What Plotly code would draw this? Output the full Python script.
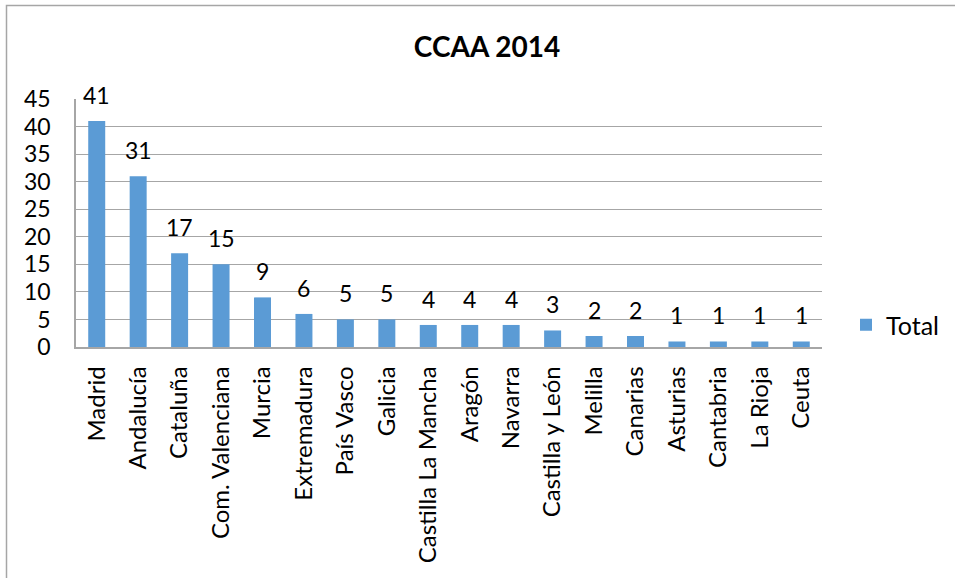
import plotly.graph_objects as go

categories = ["Madrid", "Andalucía", "Cataluña", "Com. Valenciana", "Murcia", "Extremadura",
              "País Vasco", "Galicia", "Castilla La Mancha", "Aragón", "Navarra",
              "Castilla y León", "Melilla", "Canarias", "Asturias", "Cantabria",
              "La Rioja", "Ceuta"]
totals = [41, 31, 17, 15, 9, 6, 5, 5, 4, 4, 4, 3, 2, 2, 1, 1, 1, 1]
y_ticks = [0, 5, 10, 15, 20, 25, 30, 35, 40, 45]

FONT = "Lato"
W, H = 955, 578
L, R, T, B = 76, 133, 99, 231

fig = go.Figure()
fig.add_trace(go.Bar(
    x=categories, y=totals, name="Total",
    marker=dict(color="#5B9BD5", line=dict(width=0)),
    cliponaxis=False, showlegend=True, hoverinfo="skip",
))

for c, v in zip(categories, totals):
    fig.add_annotation(x=c, y=v, text=str(v), showarrow=False, yanchor="bottom",
                       yshift=10, font=dict(family=FONT, size=23, color="#000000"))

pw = W - L - R
ph = H - T - B
fig.add_shape(type="rect", xref="paper", yref="paper",
              x0=(6.5 - L) / pw, x1=(W + 10 - L) / pw,
              y0=(H - B - (H + 10)) / ph, y1=(H - B - 5.5) / ph,
              line=dict(color="#A6A6A6", width=1.5), fillcolor="rgba(0,0,0,0)", layer="below")

fig.update_layout(
    width=W, height=H,
    margin=dict(l=L, r=R, t=T, b=B, autoexpand=False),
    paper_bgcolor="white", plot_bgcolor="white",
    bargap=0.59,
    title=dict(text="<b>CCAA 2014</b>", x=487 / W, xanchor="center",
               y=1 - 47 / H, yanchor="middle",
               font=dict(family=FONT, size=28, color="#000000")),
    font=dict(family=FONT, size=23, color="#000000"),
    showlegend=True,
    legend=dict(x=(846 - L) / pw, y=(H - B - 325) / ph, xanchor="left", yanchor="middle",
                font=dict(family=FONT, size=25, color="#000000"),
                bgcolor="rgba(0,0,0,0)", itemwidth=30),
    xaxis=dict(type="category", tickangle=-90, showgrid=False,
               showline=True, linecolor="#A6A6A6", linewidth=1.5,
               ticks="", tickfont=dict(family=FONT, size=24, color="#000000"),
               ticklabelstandoff=8),
    yaxis=dict(range=[0, 45], tickvals=y_ticks, showgrid=True, gridcolor="#A6A6A6",
               gridwidth=1, showline=True, linecolor="#A6A6A6", linewidth=1.5,
               zeroline=False, ticks="", ticklabelstandoff=19,
               tickfont=dict(family=FONT, size=23, color="#000000")),
)

fig.write_html("out.html", config={"displayModeBar": False},
               post_script="document.body.style.margin='0';document.body.style.overflow='hidden';")
